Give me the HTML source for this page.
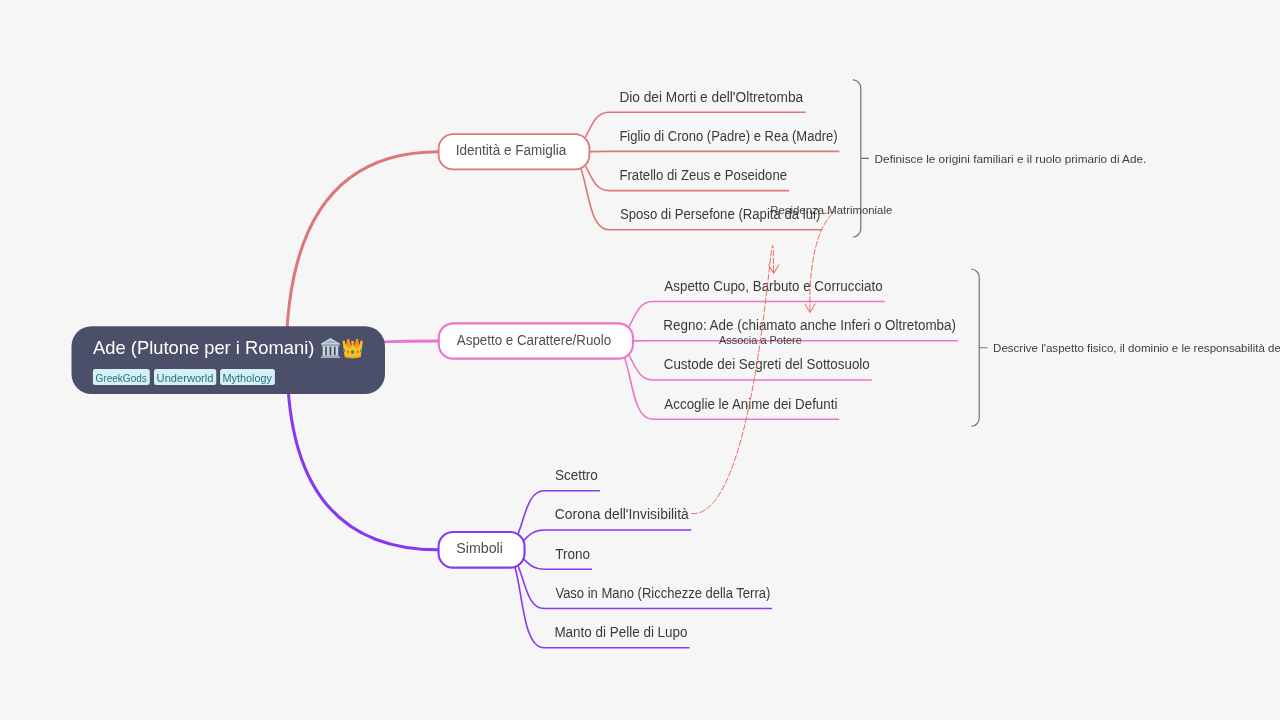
<!DOCTYPE html>
<html lang="it"><head><meta charset="utf-8"><title>Ade (Plutone per i Romani)</title>
<style>
html,body{margin:0;padding:0;background:#f6f6f6;overflow:hidden;}
body{width:1280px;height:720px;font-family:"Liberation Sans",sans-serif;}
svg{display:block;position:absolute;left:0;top:0;will-change:transform;}
text{font-family:"Liberation Sans",sans-serif;white-space:pre;}
</style></head><body>
<svg width="1280" height="720" viewBox="0 0 1280 720" font-family="'Liberation Sans', sans-serif">
<rect width="1280" height="720" fill="#f6f6f6"/>
<path d="M 286.1 360.15 Q 286.1 151.8 438.75 151.8" fill="none" stroke="#dd7878" stroke-width="3.0" stroke-linecap="round"/>
<path d="M 297.6 360.15 Q 297.6 341 438.75 341" fill="none" stroke="#ea76cb" stroke-width="3.0" stroke-linecap="round"/>
<path d="M 287.2 360.15 Q 287.2 549.85 438.5 549.85" fill="none" stroke="#8839ef" stroke-width="3.0" stroke-linecap="round"/>
<path d="M 566.3 151.8 C 590.3 151.8 586.34 112.2 608.8 112.2 H 805.85" fill="none" stroke="#dd7878" stroke-width="1.6"/>
<path d="M 566.3 151.8 C 590.3 151.8 590.26 151.4 608.8 151.4 H 839.35" fill="none" stroke="#dd7878" stroke-width="1.6"/>
<path d="M 566.3 151.8 C 590.3 151.8 586.42 190.6 608.8 190.6 H 789.1" fill="none" stroke="#dd7878" stroke-width="1.6"/>
<path d="M 566.3 151.8 C 590.3 151.8 582.5 229.8 608.8 229.8 H 822.1" fill="none" stroke="#dd7878" stroke-width="1.6"/>
<path d="M 610 341 C 634 341 630.05 301.5 652.5 301.5 H 884.7" fill="none" stroke="#ea76cb" stroke-width="1.6"/>
<path d="M 610 341 C 634 341 633.98 340.75 652.5 340.75 H 957.8" fill="none" stroke="#ea76cb" stroke-width="1.6"/>
<path d="M 610 341 C 634 341 630.1 380 652.5 380 H 871.8" fill="none" stroke="#ea76cb" stroke-width="1.6"/>
<path d="M 610 341 C 634 341 626.17 419.25 652.5 419.25 H 839.1" fill="none" stroke="#ea76cb" stroke-width="1.6"/>
<path d="M 501.6 549.85 C 525.6 549.85 519.7 490.8 544.1 490.8 H 599.85" fill="none" stroke="#8839ef" stroke-width="1.6"/>
<path d="M 501.6 549.85 C 525.6 549.85 523.62 530.05 544.1 530.05 H 691.35" fill="none" stroke="#8839ef" stroke-width="1.6"/>
<path d="M 501.6 549.85 C 525.6 549.85 523.65 569.3 544.1 569.3 H 592.1" fill="none" stroke="#8839ef" stroke-width="1.6"/>
<path d="M 501.6 549.85 C 525.6 549.85 519.73 608.55 544.1 608.55 H 772.1" fill="none" stroke="#8839ef" stroke-width="1.6"/>
<path d="M 501.6 549.85 C 525.6 549.85 515.81 647.8 544.1 647.8 H 689.6" fill="none" stroke="#8839ef" stroke-width="1.6"/>
<text x="619.38" y="101.6" font-size="14" fill="#3a3a3a" textLength="183.87" lengthAdjust="spacingAndGlyphs">Dio dei Morti e dell'Oltretomba</text>
<text x="619.43" y="140.8" font-size="14" fill="#3a3a3a" textLength="218.12" lengthAdjust="spacingAndGlyphs">Figlio di Crono (Padre) e Rea (Madre)</text>
<text x="619.42" y="180" font-size="14" fill="#3a3a3a" textLength="167.67" lengthAdjust="spacingAndGlyphs">Fratello di Zeus e Poseidone</text>
<text x="619.9" y="219.2" font-size="14" fill="#3a3a3a" textLength="200.41" lengthAdjust="spacingAndGlyphs">Sposo di Persefone (Rapita da lui)</text>
<text x="664.37" y="290.9" font-size="14" fill="#3a3a3a" textLength="218.29" lengthAdjust="spacingAndGlyphs">Aspetto Cupo, Barbuto e Corrucciato</text>
<text x="663.3" y="330.15" font-size="14" fill="#3a3a3a" textLength="292.73" lengthAdjust="spacingAndGlyphs">Regno: Ade (chiamato anche Inferi o Oltretomba)</text>
<text x="663.72" y="369.4" font-size="14" fill="#3a3a3a" textLength="206.04" lengthAdjust="spacingAndGlyphs">Custode dei Segreti del Sottosuolo</text>
<text x="664.37" y="408.65" font-size="14" fill="#3a3a3a" textLength="173.02" lengthAdjust="spacingAndGlyphs">Accoglie le Anime dei Defunti</text>
<text x="554.88" y="480.2" font-size="14" fill="#3a3a3a" textLength="42.93" lengthAdjust="spacingAndGlyphs">Scettro</text>
<text x="554.79" y="519.45" font-size="14" fill="#3a3a3a" textLength="133.96" lengthAdjust="spacingAndGlyphs">Corona dell'Invisibilità</text>
<text x="555.2" y="558.7" font-size="14" fill="#3a3a3a" textLength="34.86" lengthAdjust="spacingAndGlyphs">Trono</text>
<text x="555.44" y="597.95" font-size="14" fill="#3a3a3a" textLength="214.85" lengthAdjust="spacingAndGlyphs">Vaso in Mano (Ricchezze della Terra)</text>
<text x="554.4" y="637.2" font-size="14" fill="#3a3a3a" textLength="133.17" lengthAdjust="spacingAndGlyphs">Manto di Pelle di Lupo</text>
<rect x="438.65" y="134.2" width="150.75" height="35.2" rx="14.5" fill="#ffffff" stroke="#dd7878" stroke-width="1.8"/>
<text x="455.75" y="154.7" font-size="14" fill="#4e4e50" textLength="110.65" lengthAdjust="spacingAndGlyphs">Identità e Famiglia</text>
<rect x="438.8" y="323.35" width="194.15" height="35.3" rx="14.5" fill="#ffffff" stroke="#ea76cb" stroke-width="2.1"/>
<text x="456.87" y="344.5" font-size="14" fill="#4e4e50" textLength="154.29" lengthAdjust="spacingAndGlyphs">Aspetto e Carattere/Ruolo</text>
<rect x="438.55" y="532.05" width="86" height="35.6" rx="14.5" fill="#ffffff" stroke="#8839ef" stroke-width="2.1"/>
<text x="456.25" y="552.7" font-size="14" fill="#4e4e50" textLength="46.6" lengthAdjust="spacingAndGlyphs">Simboli</text>
<rect x="71.5" y="326.2" width="313.5" height="67.9" rx="20" fill="#4c4f69"/>
<text x="93.06" y="354.1" font-size="18.2" fill="#ffffff" textLength="221.27" lengthAdjust="spacingAndGlyphs">Ade (Plutone per i Romani)</text>
<rect x="92.9" y="369.1" width="56.85" height="15.9" rx="2.5" fill="#d6f0f8"/>
<text x="95.49" y="382.1" font-size="10" fill="#276f86" textLength="51.37" lengthAdjust="spacingAndGlyphs">GreekGods</text>
<rect x="154" y="369.1" width="62.25" height="15.9" rx="2.5" fill="#d6f0f8"/>
<text x="156.64" y="382.1" font-size="10" fill="#276f86" textLength="56.82" lengthAdjust="spacingAndGlyphs">Underworld</text>
<rect x="220.1" y="369.1" width="54.8" height="15.9" rx="2.5" fill="#d6f0f8"/>
<text x="222.51" y="382.1" font-size="10" fill="#276f86" textLength="49.51" lengthAdjust="spacingAndGlyphs">Mythology</text>
<g transform="translate(316 334) scale(0.040625)">
<path d="M355 98 L588 236 L588 264 L122 264 L122 236 Z" fill="#c3d0dd"/>
<path d="M355 152 L505 224 L205 224 Z" fill="#9fb1c3"/>
<rect x="140" y="264" width="430" height="34" fill="#94a6b7"/>
<rect x="172" y="306" width="366" height="220" fill="#47505d"/>
<rect x="165" y="300" width="62" height="232" fill="#c9d6e2"/><rect x="270" y="300" width="62" height="232" fill="#c9d6e2"/><rect x="378" y="300" width="62" height="232" fill="#c9d6e2"/><rect x="483" y="300" width="62" height="232" fill="#c9d6e2"/>
<rect x="150" y="296" width="410" height="16" fill="#c9d6e2"/>
<rect x="150" y="522" width="410" height="36" fill="#b7c6d3"/>
<rect x="118" y="556" width="474" height="36" fill="#a5b6c5"/>
</g>
<g transform="translate(316 334) scale(0.040625)">
<path d="M768 160 L822 160 L885 345 L715 345 Z" fill="#f79329"/><circle cx="795" cy="150" r="31" fill="#f79329"/>
<path d="M983 160 L1037 160 L1090 345 L920 345 Z" fill="#f79329"/><circle cx="1010" cy="150" r="31" fill="#f79329"/>
<path d="M658 195 L712 200 L752 318 Q805 372 862 318 L884 228 L918 228 L942 318 Q1000 372 1052 318 L1094 200 L1148 195 L1100 562 Q900 626 706 562 Z" fill="#fcc21b"/>
<circle cx="685" cy="190" r="31" fill="#fcc21b"/><circle cx="1120" cy="190" r="31" fill="#fcc21b"/><circle cx="900" cy="207" r="35" fill="#fcc21b"/>
<path d="M704 520 Q900 578 1102 520 L1098 566 Q900 628 708 566 Z" fill="#f7a91f"/>
<ellipse cx="900" cy="445" rx="42" ry="49" fill="#16a085"/>
<circle cx="785" cy="440" r="26" fill="#ed4c3c"/><circle cx="1025" cy="440" r="26" fill="#ed4c3c"/>
<ellipse cx="696" cy="405" rx="22" ry="38" fill="#22a699"/><ellipse cx="1104" cy="405" rx="22" ry="38" fill="#22a699"/>
</g>
<path d="M 853.3 79.8 c 4 0 7.5 4 7.5 8 L 860.8 229 c 0 4 -3.5 8 -7.5 8 M 860.8 158.4 h 7.6" fill="none" stroke="#727272" stroke-width="1.2" stroke-linecap="round"/>
<text x="874.64" y="162.9" font-size="10.4" fill="#3e3e3e" textLength="271.68" lengthAdjust="spacingAndGlyphs">Definisce le origini familiari e il ruolo primario di Ade.</text>
<path d="M 971.75 269.25 c 4 0 7.5 4 7.5 8 L 979.25 418.25 c 0 4 -3.5 8 -7.5 8 M 979.25 347.75 h 7.6" fill="none" stroke="#727272" stroke-width="1.2" stroke-linecap="round"/>
<text x="993.05" y="352.25" font-size="10.4" fill="#3e3e3e" textLength="348.21" lengthAdjust="spacingAndGlyphs">Descrive l'aspetto fisico, il dominio e le responsabilità del suo regno.</text>
<path d="M 822.5 213.8 C 857.5 209.7 806.8 197.1 810 312.5" fill="none" stroke="rgb(235,95,82)" stroke-width="0.9" stroke-dasharray="6.4 1.6"/>
<path d="M 804.7 303.7 L 810 312.5 L 815.3 303.7" fill="none" stroke="rgb(235,95,82)" stroke-width="1"/>
<path d="M 691.5 513.5 C 763.7 519.7 773.4 141.2 773.5 273.5" fill="none" stroke="rgb(235,95,82)" stroke-width="0.9" stroke-dasharray="6.4 1.6"/>
<path d="M 768.4 264.5 L 773.6 273.5 L 779 264.5" fill="none" stroke="rgb(235,95,82)" stroke-width="1"/>
<text x="770.32" y="213.9" font-size="10.4" fill="#3e3e3e" textLength="121.94" lengthAdjust="spacingAndGlyphs">Residenza Matrimoniale</text>
<text x="718.98" y="343.7" font-size="10.4" fill="#3e3e3e" textLength="82.91" lengthAdjust="spacingAndGlyphs">Associa a Potere</text>
</svg>
</body></html>
